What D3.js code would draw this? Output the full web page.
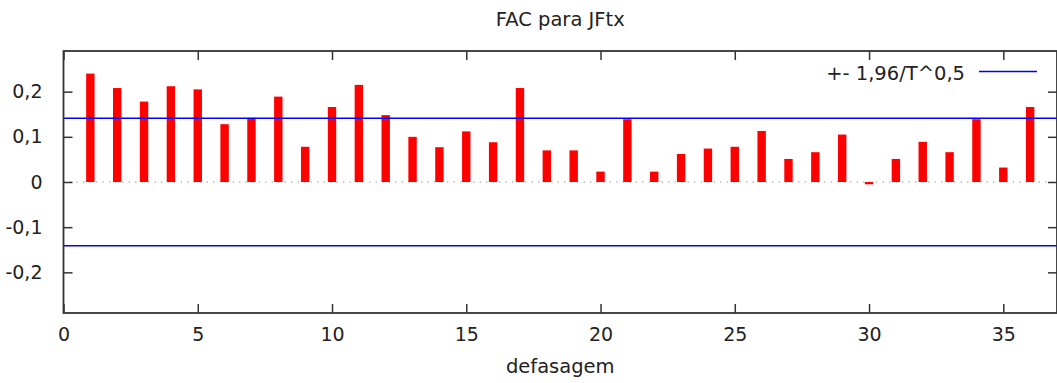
<!DOCTYPE html>
<html>
<head>
<meta charset="utf-8">
<script src="https://cdn.jsdelivr.net/npm/d3@7"></script>
<style>
  body { margin: 0; background: #fff; }
  text { font-family: "DejaVu Sans", Verdana, sans-serif; fill: #222; }
</style>
</head>
<body>
<div class="vis-fac"></div>
<script>
// lags 1..36 and the autocorrelation
const lags = d3.range(1, 37);
const acf = [0.240, 0.208, 0.178, 0.212, 0.205, 0.128, 0.142, 0.189, 0.078, 0.166,
             0.215, 0.148, 0.100, 0.077, 0.112, 0.088, 0.208, 0.070, 0.070, 0.023,
             0.139, 0.023, 0.062, 0.074, 0.078, 0.113, 0.051, 0.066, 0.105, -0.005,
             0.051, 0.089, 0.066, 0.139, 0.032, 0.166];
const band = 0.1414;          // +- 1,96/T^0,5
const xTicks = [0, 5, 10, 15, 20, 25, 30, 35];
const yTicks = [-0.2, -0.1, 0, 0.1, 0.2];
const yTickLabels = ["-0,2", "-0,1", "0", "0,1", "0,2"];
const title = "FAC para JFtx";
const xLabel = "defasagem";
const legendLabel = "+- 1,96/T^0,5";

const W = 1057, H = 383;
const margin = { top: 51, right: 0, bottom: 70, left: 63.5 };
const width = W - margin.left - margin.right;
const height = H - margin.top - margin.bottom;

const svg = d3.select(".vis-fac").append("svg")
    .attr("width", W).attr("height", H);
const g = svg.append("g")
    .attr("transform", "translate(" + margin.left + "," + margin.top + ")");

const x = d3.scaleLinear().domain([0, 37]).range([0, width]);
const y = d3.scaleLinear().domain([-0.29, 0.29]).range([height, 0]);

// zero line (dotted)
g.append("line")
    .attr("x1", 0).attr("x2", width)
    .attr("y1", y(0)).attr("y2", y(0))
    .attr("stroke", "#a0a0a0").attr("stroke-width", 1.2)
    .attr("stroke-dasharray", "1.5,5");

// bars
g.selectAll("rect.bar").data(lags).enter().append("rect")
    .attr("class", "bar")
    .attr("x", d => x(d) - 4.2)
    .attr("width", 8.4)
    .attr("y", (d, i) => y(Math.max(0, acf[i])))
    .attr("height", (d, i) => Math.abs(y(acf[i]) - y(0)))
    .attr("fill", "#ff0000");

// confidence band
[band, -band].forEach(v => {
    g.append("line")
        .attr("x1", 0).attr("x2", width)
        .attr("y1", y(v)).attr("y2", y(v))
        .attr("stroke", "#0000ff").attr("stroke-width", 1.5);
});

// axes, ticks inward on all sides
const tk = 9;
g.append("g")
    .attr("transform", "translate(0," + height + ")")
    .call(d3.axisBottom(x).tickValues(xTicks).tickSize(-tk).tickPadding(tk + 6))
    .call(a => a.select(".domain").remove());
g.append("g")
    .call(d3.axisTop(x).tickValues(xTicks).tickSize(-tk).tickFormat(""))
    .call(a => a.select(".domain").remove());
g.append("g")
    .call(d3.axisLeft(y).tickValues(yTicks).tickSize(-tk).tickPadding(tk + 12)
        .tickFormat((d, i) => yTickLabels[i]))
    .call(a => a.select(".domain").remove());
g.append("g")
    .attr("transform", "translate(" + width + ",0)")
    .call(d3.axisRight(y).tickValues(yTicks).tickSize(-tk).tickFormat(""))
    .call(a => a.select(".domain").remove());
g.selectAll(".tick line").attr("stroke", "#333").attr("stroke-width", 1.5);
g.selectAll(".tick text").style("font-size", "19px").attr("fill", "#222");

// frame
g.append("rect")
    .attr("x", 0).attr("y", 0).attr("width", width).attr("height", height)
    .attr("fill", "none").attr("stroke", "#333").attr("stroke-width", 1.8);

// title and axis label
svg.append("text")
    .attr("x", margin.left + width / 2).attr("y", 26)
    .attr("text-anchor", "middle").style("font-size", "19.5px")
    .text(title);
svg.append("text")
    .attr("x", margin.left + width / 2).attr("y", 373)
    .attr("text-anchor", "middle").style("font-size", "19.5px")
    .text(xLabel);

// legend
svg.append("text")
    .attr("x", 965).attr("y", 80)
    .attr("text-anchor", "end").style("font-size", "19.5px")
    .text(legendLabel);
svg.append("line")
    .attr("x1", 979).attr("x2", 1037)
    .attr("y1", 71.5).attr("y2", 71.5)
    .attr("stroke", "#0000ff").attr("stroke-width", 1.5);
</script>
</body>
</html>
